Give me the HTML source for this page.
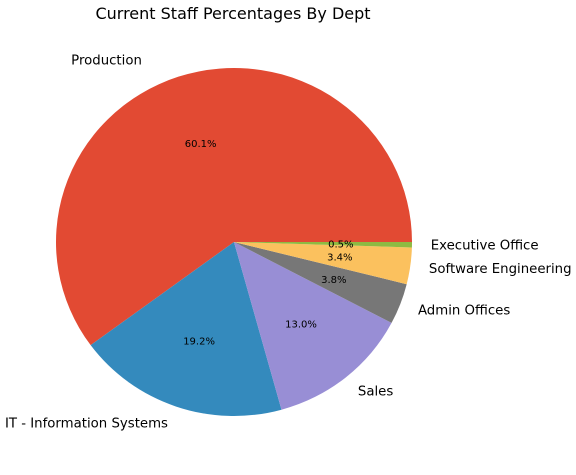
<!DOCTYPE html>
<html><head><meta charset="utf-8"><style>
body{margin:0;background:#fff;}
svg text{font-family:"DejaVu Sans","Liberation Sans",sans-serif;fill:#000;}
</style></head><body>
<svg width="576" height="470" viewBox="0 0 576 470">
<text x="233" y="19" text-anchor="middle" font-size="16">Current Staff Percentages By Dept</text>
<g id="wedges"></g>
<g id="labels"></g>
</svg>
<script>
const categories = ["Production","IT - Information Systems","Sales","Admin Offices","Software Engineering","Executive Office"];
const values = [60.1, 19.2, 13.0, 3.8, 3.4, 0.5];
const colors = ["#E24A33","#348ABD","#988ED5","#777777","#FBC15E","#8EBA42"];
const cx=234, cy=242, rx=178, ry=174;
const NS="http://www.w3.org/2000/svg";
const wg=document.getElementById('wedges'), lg=document.getElementById('labels');
const total=values.reduce((a,b)=>a+b,0);
let start=0;
function pt(a,f){return [cx+rx*f*Math.cos(a), cy-ry*f*Math.sin(a)];}
values.forEach((v,i)=>{
  const span=v/total*2*Math.PI, end=start+span, mid=start+span/2;
  const p0=pt(start,1), p1=pt(end,1);
  const path=document.createElementNS(NS,'path');
  path.setAttribute('d',`M${cx},${cy} L${p0[0]},${p0[1]} A${rx},${ry} 0 ${span>Math.PI?1:0} 0 ${p1[0]},${p1[1]} Z`);
  path.setAttribute('fill',colors[i]);
  
  
  wg.appendChild(path);
  const lp=pt(mid,1.1);
  const t=document.createElementNS(NS,'text');
  const left=Math.cos(mid)>0;
  t.setAttribute('x',lp[0]+(i===0?-31:(left?1:-2))); t.setAttribute('y',lp[1]+4.5);
  t.setAttribute('text-anchor',left?'start':'end');
  t.setAttribute('font-size','13.3');
  t.textContent=categories[i];
  
  
  lg.appendChild(t);
  const pp=pt(mid,0.6);
  const q=document.createElementNS(NS,'text');
  q.setAttribute('x',pp[0]); q.setAttribute('y',pp[1]+4);
  q.setAttribute('text-anchor','middle');
  q.setAttribute('font-size','10');
  q.textContent=(v/total*100).toFixed(1)+'%';
  
  
  lg.appendChild(q);
  start=end;
});
</script>
</body></html>
